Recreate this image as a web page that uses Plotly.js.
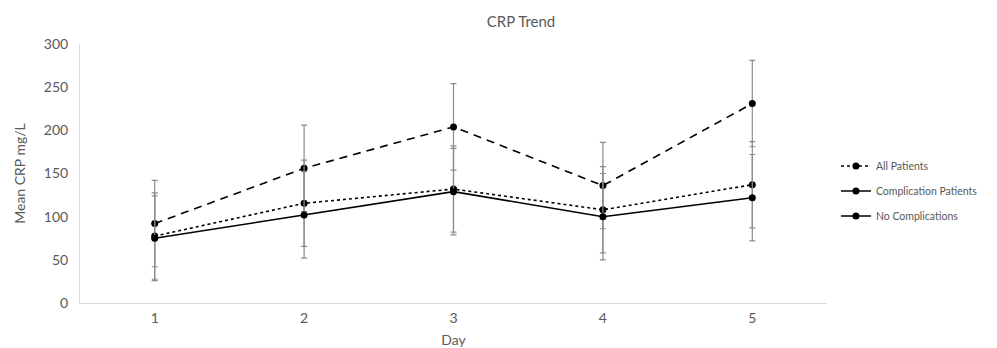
<!DOCTYPE html>
<html>
<head>
<meta charset="utf-8">
<script src="https://cdn.plot.ly/plotly-3.0.1.min.js"></script>
<style>html,body{margin:0;padding:0;background:#fff;}#chart{width:997px;height:348px;}</style>
</head>
<body>
<div id="chart"></div>
<script>
const days = ["1", "2", "3", "4", "5"];
const allPatients = [77.5, 115.5, 132, 108, 137];
const complicationPatients = [92, 156, 204, 136, 231];
const noComplications = [75, 102, 129, 100, 122];
const errAll = [50, 50, 50, 50, 50];
const errComplication = [50, 50, 50, 50, 50];
const errNoComplication = [49, 50, 50, 50, 50];
const seriesNames = ["All Patients", "Complication Patients", "No Complications"];

const grey = "#595959";
const font = "Lato, 'Liberation Sans', sans-serif";
const errStyle = (arr) => ({type: "data", array: arr, visible: true, color: "#8c8c8c", thickness: 1.2, width: 3});
const mk = {color: "#000", size: 7};

const traces = [
  {x: days, y: complicationPatients, error_y: errStyle(errComplication), mode: "lines+markers",
   line: {color: "#000", width: 1.6, dash: "8px,6px"}, marker: mk, showlegend: false, name: seriesNames[1]},
  {x: days, y: allPatients, error_y: errStyle(errAll), mode: "lines+markers",
   line: {color: "#000", width: 1.6, dash: "dot"}, marker: mk, showlegend: false, name: seriesNames[0]},
  {x: days, y: noComplications, error_y: errStyle(errNoComplication), mode: "lines+markers",
   line: {color: "#000", width: 1.6}, marker: mk, showlegend: false, name: seriesNames[2]},
  // legend entries (as in the original, the legend shows solid lines for both subgroups)
  {x: [null], y: [null], mode: "lines+markers", name: seriesNames[0], legendgroup: "a",
   line: {color: "#000", width: 1.6, dash: "dot"}, marker: mk},
  {x: [null], y: [null], mode: "lines+markers", name: seriesNames[1], legendgroup: "b",
   line: {color: "#000", width: 1.6}, marker: mk},
  {x: [null], y: [null], mode: "lines+markers", name: seriesNames[2], legendgroup: "c",
   line: {color: "#000", width: 1.6}, marker: mk}
];

const layout = {
  width: 997, height: 348,
  margin: {l: 80, r: 170, t: 44, b: 45},
  paper_bgcolor: "#fff", plot_bgcolor: "#fff",
  font: {family: font, color: grey, size: 13},
  title: {text: "CRP Trend", font: {size: 15, color: grey, family: font}, x: 521/997, xanchor: "center", xref: "container",
          y: 1 - 22/348, yref: "container", yanchor: "middle"},
  xaxis: {type: "category", range: [-0.5, 4.5], showgrid: false, zeroline: false,
          showline: true, linecolor: "#d9d9d9", linewidth: 1, ticks: "",
          tickfont: {size: 14, color: grey}, ticklabelstandoff: 2,
          title: {text: "Day", font: {size: 14, color: grey}, standoff: 10}},
  yaxis: {range: [0, 300], dtick: 50, showgrid: false, zeroline: false,
          showline: true, linecolor: "#d9d9d9", linewidth: 1, ticks: "",
          tickfont: {size: 14, color: grey}, ticklabelstandoff: 8,
          title: {text: "Mean CRP mg/L", font: {size: 14, color: grey}, standoff: 14}},
  legend: {x: 1.012, y: 0.585, xanchor: "left", yanchor: "top", font: {size: 10.5, color: grey},
           tracegroupgap: 6, traceorder: "grouped", bgcolor: "rgba(0,0,0,0)"},
  showlegend: true
};

Plotly.newPlot("chart", traces, layout, {displayModeBar: false, staticPlot: true});
</script>
</body>
</html>
